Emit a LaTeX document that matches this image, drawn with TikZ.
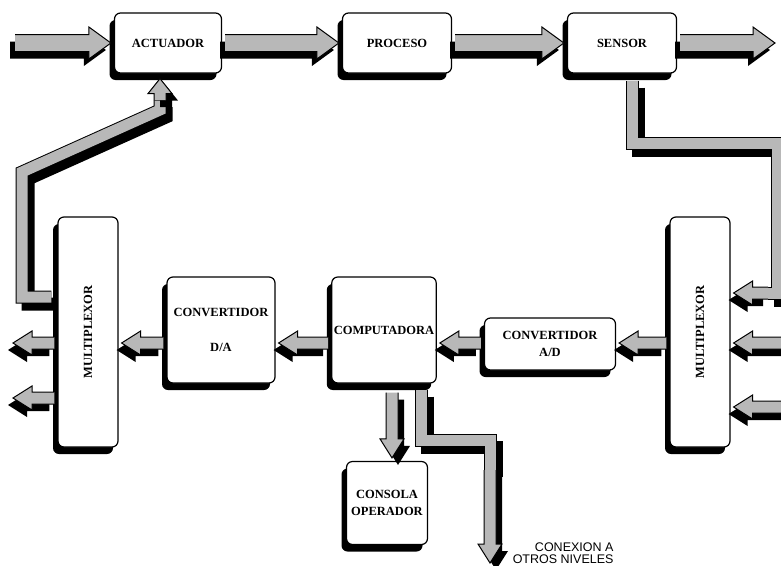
\documentclass[tikz,border=0pt]{standalone}
\usepackage{fontspec}
\setmainfont{Liberation Serif}
\setsansfont{Liberation Sans}
\usepackage{graphicx}
\usetikzlibrary{calc,shadows}

\colorlet{dotgray}{black!28}

\tikzset{
 body/.store in=\fatbody, head/.store in=\fathead, headlen/.store in=\fatlen,
 tail gap/.store in=\fattail, tip gap/.store in=\fattip,
 lshadow/.style={general shadow={fill=black,shadow xshift=-5pt,shadow yshift=-7pt}},
 rshadow/.style={general shadow={fill=black,shadow xshift=6pt,shadow yshift=-7pt}},
 fatarrow/.style={fill=dotgray,draw=black,line width=1pt,
  body=6pt,head=12pt,headlen=19pt,tail gap=3pt,tip gap=3pt,
  to path={let \p1=($(\tikztostart)!\fattail!(\tikztotarget)$),
   \p2=($(\tikztotarget)!\fattip!(\tikztostart)$),
   \n1={atan2(\y2-\y1,\x2-\x1)} in
   ($(\p1)+(\n1+90:\fatbody)$) -- ($(\p2)+(\n1:-\fatlen)+(\n1+90:\fatbody)$)
   -- ($(\p2)+(\n1:-\fatlen)+(\n1+90:\fathead)$) -- (\p2)
   -- ($(\p2)+(\n1:-\fatlen)+(\n1-90:\fathead)$)
   -- ($(\p2)+(\n1:-\fatlen)+(\n1-90:\fatbody)$) -- ($(\p1)+(\n1-90:\fatbody)$)}},
 hfat/.style={fatarrow,lshadow},
 vfat/.style={fatarrow,rshadow},
 big/.style={body=8.5pt,head=16pt,headlen=22pt},
 pipe/.style={draw=black,line width=1pt,double=dotgray,double distance=11pt,
  preaction={draw=black,line width=13pt,transform canvas={shift={(6pt,-7pt)}}}},
 pipearrow/.style={tail gap=0pt},
 box/.style={draw,line width=1.2pt,fill=white,rounded corners=6pt,inner sep=2pt,
  align=center,font=\bfseries\fontsize{12.5}{17}\selectfont,lshadow},
 nota/.style={align=right,font=\sffamily\fontsize{12.5}{12.5}\selectfont}
}

\begin{document}
\begin{tikzpicture}[x=1pt,y=-1pt]
\useasboundingbox (0,0) rectangle (781,565);
\node[box,minimum width=107pt,minimum height=60pt] (act) at (168,43) {ACTUADOR};
\node[box,minimum width=109pt,minimum height=60pt] (proc) at (397,43) {PROCESO};
\node[box,minimum width=109pt,minimum height=60pt] (sens) at (622,43) {SENSOR};
\node[box,minimum width=60pt,minimum height=230pt] (muxL) at (88,332)
 {\rotatebox{90}{MULTIPLEXOR}};
\node[box,minimum width=60pt,minimum height=230pt] (muxR) at (700,332)
 {\rotatebox{90}{MULTIPLEXOR}};
\node[box,minimum width=108pt,minimum height=106pt] (da) at (221,330)
 {CONVERTIDOR\\[18pt]D/A};
\node[box,minimum width=104pt,minimum height=106pt] (comp) at (384,330) {COMPUTADORA};
\node[box,minimum width=131pt,minimum height=52pt] (ad) at (550,344)
 {CONVERTIDOR\\A/D};
\node[box,minimum width=81pt,minimum height=83pt] (cons) at (387,503)
 {CONSOLA\\OPERADOR};
\node[nota,anchor=east] (otros) at (617,553) {CONEXION A\\OTROS NIVELES};

\coordinate (entrada) at (12,43);
\coordinate (salida) at (778,43);
\coordinate (fila) at (0,343);
\coordinate (col) at (392,0);
\coordinate (sal1) at (10,343);
\coordinate (sal2) at (10,398);
\coordinate (ent1) at (790,343);
\coordinate (ent2) at (790,407);
\coordinate (sp1) at (777,143);
\coordinate (sp2) at (768,293);
\coordinate (lp1) at (22,297);
\coordinate (lp2) at (22,172);
\coordinate (lp3) at (160,110);
\coordinate (lp4) at (160,100);
\coordinate (op1) at (490,440);
\coordinate (op2) at (490,470);
\coordinate (niveles) at (490,566);

\draw[hfat,big] (entrada) to (act.west);
\draw[hfat,big] (act.east) to (proc.west);
\draw[hfat,big] (proc.east) to (sens.west);
\draw[hfat,big] (sens.east) to (salida);

\draw[hfat] (muxR.west |- fila) to (ad.east |- fila);
\draw[hfat] (ad.west |- fila) to (comp.east |- fila);
\draw[hfat] (comp.west |- fila) to (da.east |- fila);
\draw[hfat] (da.west |- fila) to (muxL.east |- fila);
\draw[hfat] (muxL.west |- sal1) to (sal1);
\draw[hfat] (muxL.west |- sal2) to (sal2);
\draw[hfat] (ent1) to (ent1 -| muxR.east);
\draw[hfat] (ent2) to (ent2 -| muxR.east);
\draw[vfat] ([yshift=-6pt]comp.south -| col) to (cons.north -| col);

\draw[pipe] ([xshift=10pt,yshift=-7pt]sens.south) |- (sp1) |- (sp2);
\draw[hfat,pipearrow] (sp2) to (sp2 -| muxR.east);

\draw[pipe] ([xshift=-6pt]muxL.west |- lp1) -- (lp1) -- (lp2) -- (lp3) -- (lp4);
\draw[vfat,pipearrow,headlen=15pt,tip gap=5pt] (lp4) to (lp4 |- act.south);

\draw[pipe] ([xshift=37pt,yshift=-6pt]comp.south) |- (op1) -- (op2);
\draw[vfat,pipearrow] (op2) to (niveles);
\end{tikzpicture}
\end{document}
